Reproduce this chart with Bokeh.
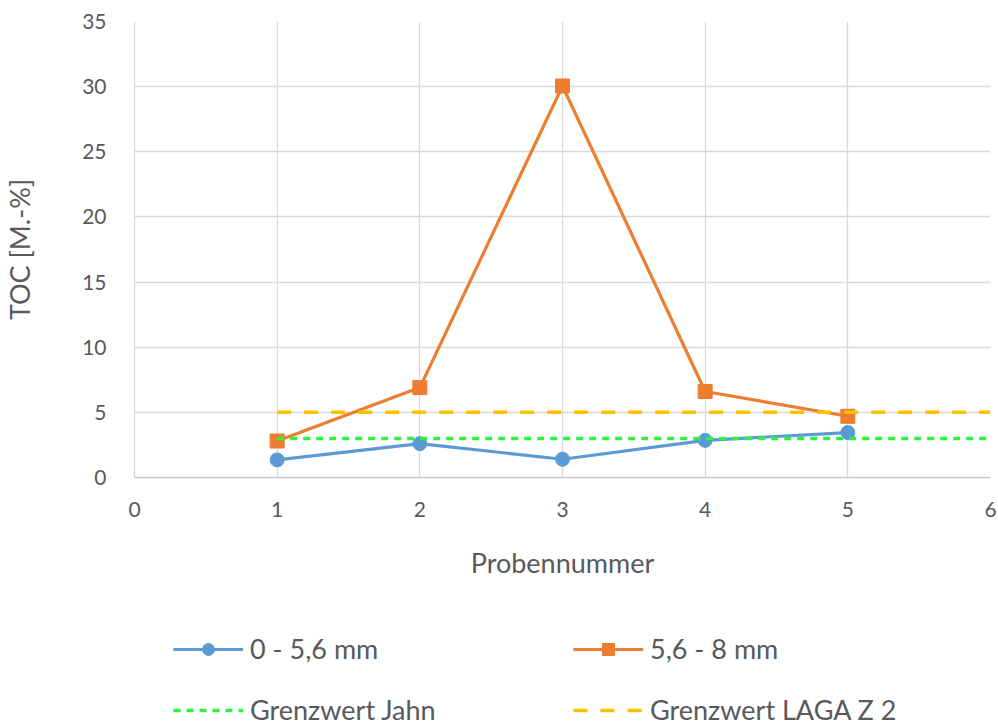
from bokeh.plotting import figure
from bokeh.models import Range1d, Legend, LegendItem, FixedTicker
from bokeh.layouts import column
from bokeh.embed import file_html
from bokeh.resources import INLINE

# ---- data ----
probennummer = [1, 2, 3, 4, 5]
toc_0_56 = [1.35, 2.6, 1.4, 2.85, 3.45]
toc_56_8 = [2.8, 6.9, 30.05, 6.6, 4.7]
grenz_x = [1, 6]
grenz_jahn = [3, 3]
grenz_laga = [5, 5]
x_ticks = [0, 1, 2, 3, 4, 5, 6]
y_ticks = [0, 5, 10, 15, 20, 25, 30, 35]

label_names = ["0 - 5,6 mm", "5,6 - 8 mm", "Grenzwert Jahn", "Grenzwert LAGA Z 2"]

FONT = "Lato"
TXT = "#595959"
GRID = "#d9d9d9"
BLUE = "#5b9bd5"
ORANGE = "#ed7d31"
GREEN = "#2ef23e"
YELLOW = "#ffc000"

# ---- main chart ----
p = figure(width=998, height=600, output_backend="svg", toolbar_location=None,
           x_range=Range1d(0, 6), y_range=Range1d(0, 35),
           min_border_left=133, min_border_right=8, min_border_top=21, min_border_bottom=123)
p.outline_line_color = None
p.background_fill_color = "white"
p.border_fill_color = "white"

for ax in (p.xaxis[0], p.yaxis[0]):
    ax.major_tick_line_color = None
    ax.minor_tick_line_color = None
    ax.major_label_text_font = FONT
    ax.major_label_text_color = TXT
    ax.major_label_text_font_size = "21px"
    ax.axis_label_text_font = FONT
    ax.axis_label_text_color = TXT
    ax.axis_label_text_font_style = "normal"
    ax.axis_label_text_font_size = "27px"

p.xaxis.ticker = FixedTicker(ticks=x_ticks)
p.yaxis.ticker = FixedTicker(ticks=y_ticks)
p.xaxis.axis_line_color = "#c8c8c8"
p.xaxis.axis_line_width = 1.5
p.yaxis.axis_line_color = GRID
p.yaxis.axis_line_width = 1.3
p.xaxis.major_label_standoff = 18
p.yaxis.major_label_standoff = 22
p.xaxis.axis_label = "Probennummer"
p.xaxis.axis_label_standoff = 26
p.yaxis.axis_label = "TOC [M.-%]"
p.yaxis.axis_label_standoff = 43

p.xgrid.ticker = FixedTicker(ticks=x_ticks)
p.ygrid.ticker = FixedTicker(ticks=y_ticks)
p.grid.grid_line_color = GRID
p.grid.grid_line_width = 1.3


def draw(fig):
    l1 = fig.line(probennummer, toc_0_56, line_color=BLUE, line_width=3.2)
    m1 = fig.scatter(probennummer, toc_0_56, marker="circle", size=14, fill_color=BLUE, line_color=BLUE)
    l2 = fig.line(probennummer, toc_56_8, line_color=ORANGE, line_width=3.2)
    m2 = fig.scatter(probennummer, toc_56_8, marker="square", size=14, fill_color=ORANGE, line_color=ORANGE)
    l3 = fig.line(grenz_x, grenz_jahn, line_color=GREEN, line_width=3.5, line_dash="7 6")
    l4 = fig.line(grenz_x, grenz_laga, line_color=YELLOW, line_width=3.5, line_dash="14 13")
    return l1, m1, l2, m2, l3, l4


draw(p)

# ---- legend strip (same series, out of view, only for the legend) ----
q = figure(width=998, height=128, output_backend="svg", toolbar_location=None,
           x_range=Range1d(-20, -19), y_range=Range1d(-20, -19),
           x_axis_location=None, y_axis_location=None, min_border=0)
q.outline_line_color = None
q.grid.visible = False
l1, m1, l2, m2, l3, l4 = draw(q)

legend = Legend(items=[
    LegendItem(label=label_names[0], renderers=[l1, m1]),
    LegendItem(label=label_names[1], renderers=[l2, m2]),
    LegendItem(label=label_names[2], renderers=[l3]),
    LegendItem(label=label_names[3], renderers=[l4]),
], location=(39, 2), orientation="horizontal", ncols=2)
legend.label_text_font = FONT
legend.label_text_font_size = "27px"
legend.label_text_color = TXT
legend.label_text_baseline = "middle"
legend.glyph_width = 70
legend.glyph_height = 30
legend.label_height = 30
legend.label_width = 295
legend.label_standoff = 7
legend.spacing = 28
legend.padding = 0
legend.margin = 0
legend.border_line_color = None
legend.background_fill_alpha = 0
q.add_layout(legend)

layout = column(p, q, spacing=0)
open("out.html", "w").write(file_html(layout, INLINE))
